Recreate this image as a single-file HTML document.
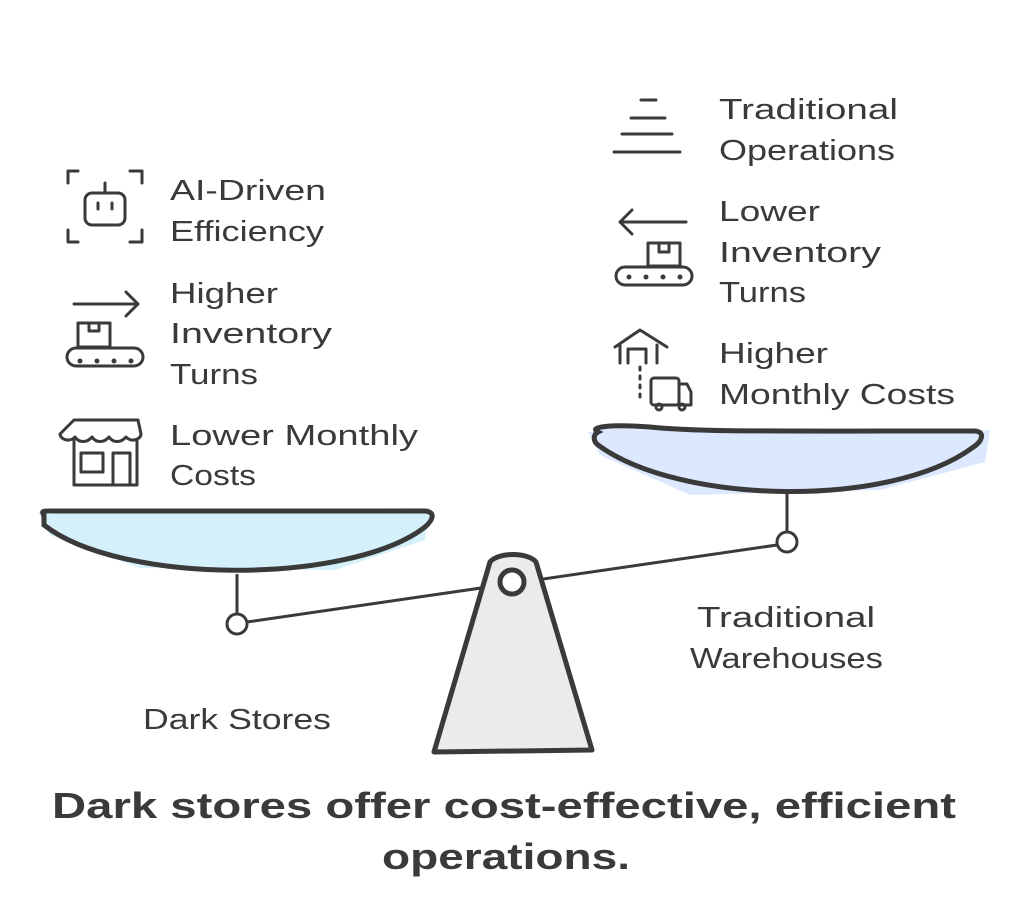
<!DOCTYPE html>
<html><head><style>
html,body{margin:0;padding:0;background:#fff;}
svg{display:block;}
text{font-family:"Liberation Sans",sans-serif;fill:#3a3a3a;}
</style></head><body>
<svg width="1024" height="902" viewBox="0 0 1024 902" xmlns="http://www.w3.org/2000/svg">
<g stroke="#3a3a3a" stroke-width="3" fill="none" stroke-linecap="round" stroke-linejoin="round">
<path d="M68 183v-12h10M130 171h12v12M68 230v12h10M130 242h12v-12"/>
<rect x="85" y="193" width="40" height="32" rx="7"/>
<path d="M105 193v-10M98 203v6M112 203v6"/>
<path d="M74 304h64M126 292l12 12-12 12"/>
<rect x="78" y="323" width="32" height="24"/><path d="M89 323v8h10v-8"/>
<rect x="67" y="348" width="76" height="18" rx="9"/>
<path d="M74 420h64l3 14c0 5-9 9-15 3-5 6-13 6-17 0-5 6-13 6-17 0-5 6-13 6-17 0-6 6-15 2-15-3Z"/>
<path d="M74 440v45h63v-45"/>
<rect x="81" y="453" width="22" height="19"/><path d="M113 485v-32h17v32"/>
<path d="M641 100h15M631 118h34M622 134h50M614 152h66"/>
<path d="M686 222h-64M632 210l-12 12 12 12"/>
<rect x="648" y="243" width="32" height="23"/><path d="M659 243v9h10v-9"/>
<rect x="616" y="267" width="76" height="18" rx="9"/>
<path d="M615 347l25-17 27 17M620 363v-18M657 363v-18M628 363v-14h18v14"/>
<path d="M640 367v34" stroke-dasharray="3 6"/>
<rect x="651" y="378" width="28" height="27" rx="3"/><path d="M679 384h8l4 8v13h-12"/>
<circle cx="659" cy="407" r="3"/><circle cx="682" cy="407" r="3"/>
</g>
<g fill="#3a3a3a">
<circle cx="80" cy="361" r="2.5"/><circle cx="97" cy="361" r="2.5"/><circle cx="114" cy="361" r="2.5"/><circle cx="131" cy="361" r="2.5"/>
<circle cx="629" cy="277" r="2.5"/><circle cx="646" cy="277" r="2.5"/><circle cx="663" cy="277" r="2.5"/><circle cx="680" cy="277" r="2.5"/>
</g>
<path d="M38 512L430 508 425 540 335 570 140 568 50 535Z" fill="#d4f1fb"/>
<path d="M44 515C40 510 45 511 60 511L425 511C436 512 433 520 425 527 350 585 120 585 44 525Z" fill="#d4f1fb" stroke="#3a3a3a" stroke-width="5"/>
<path d="M588 432L990 430 985 462 880 490 690 495 600 455Z" fill="#dce8fd"/>
<path d="M598 432C588 427 610 424 650 427 700 432 750 431 975 431 986 432 982 442 972 448 890 508 680 505 598 445 592 440 594 434 598 432Z" fill="#dce8fd" stroke="#3a3a3a" stroke-width="5"/>
<g stroke="#3a3a3a" stroke-width="3" fill="none">
<path d="M237 574v39M787 492v40M247 622L777 545"/>
<circle cx="237" cy="624" r="10" fill="#fff"/>
<circle cx="787" cy="542" r="10" fill="#fff"/>
</g>
<path d="M490 562C498 552 528 552 536 562L592 750 434 752Z" fill="#ebebeb" stroke="#3a3a3a" stroke-width="5" stroke-linejoin="round"/>
<circle cx="512" cy="582" r="12" fill="#fff" stroke="#3a3a3a" stroke-width="5"/>
<g font-size="29">
<text x="170" y="200" textLength="156" lengthAdjust="spacingAndGlyphs">AI-Driven</text>
<text x="170" y="241" textLength="154" lengthAdjust="spacingAndGlyphs">Efficiency</text>
<text x="170" y="303" textLength="108" lengthAdjust="spacingAndGlyphs">Higher</text>
<text x="170" y="343" textLength="162" lengthAdjust="spacingAndGlyphs">Inventory</text>
<text x="170" y="384" textLength="88" lengthAdjust="spacingAndGlyphs">Turns</text>
<text x="170" y="445" textLength="248" lengthAdjust="spacingAndGlyphs">Lower Monthly</text>
<text x="170" y="485" textLength="86" lengthAdjust="spacingAndGlyphs">Costs</text>
<text x="719" y="119" textLength="179" lengthAdjust="spacingAndGlyphs">Traditional</text>
<text x="719" y="160" textLength="176" lengthAdjust="spacingAndGlyphs">Operations</text>
<text x="719" y="221" textLength="101" lengthAdjust="spacingAndGlyphs">Lower</text>
<text x="719" y="262" textLength="162" lengthAdjust="spacingAndGlyphs">Inventory</text>
<text x="719" y="302" textLength="87" lengthAdjust="spacingAndGlyphs">Turns</text>
<text x="719" y="363" textLength="109" lengthAdjust="spacingAndGlyphs">Higher</text>
<text x="719" y="404" textLength="236" lengthAdjust="spacingAndGlyphs">Monthly Costs</text>
<text x="697" y="627" textLength="178" lengthAdjust="spacingAndGlyphs">Traditional</text>
<text x="690" y="668" textLength="193" lengthAdjust="spacingAndGlyphs">Warehouses</text>
<text x="143" y="729" textLength="188" lengthAdjust="spacingAndGlyphs">Dark Stores</text>
</g>
<g font-size="36" font-weight="bold">
<text x="52" y="818" textLength="904" lengthAdjust="spacingAndGlyphs">Dark stores offer cost-effective, efficient</text>
<text x="382" y="869" textLength="248" lengthAdjust="spacingAndGlyphs">operations.</text>
</g>
</svg>
</body></html>
